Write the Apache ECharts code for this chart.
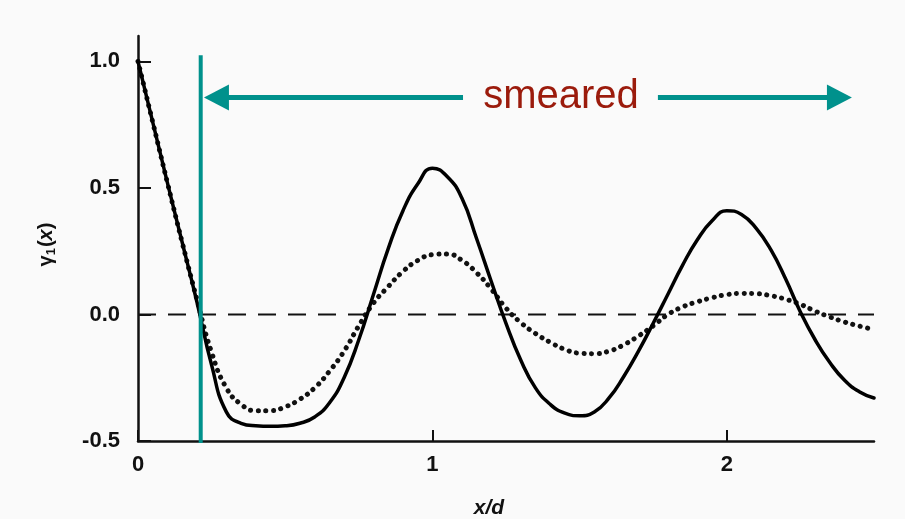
<!DOCTYPE html>
<html><head><meta charset="utf-8">
<script src="https://cdn.jsdelivr.net/npm/echarts@6/dist/echarts.min.js"></script>
<style>html,body{margin:0;padding:0;background:#fafafa}#c{width:905px;height:519px}</style>
</head><body><div id="c"></div><script>
// x/d sample positions
const xValues = [0.00,0.05,0.10,0.15,0.20,0.25,0.30,0.35,0.40,0.45,0.50,0.55,0.60,0.65,0.70,0.75,0.80,0.85,0.90,0.95,
  1.00,1.05,1.10,1.15,1.20,1.25,1.30,1.35,1.40,1.45,1.50,1.55,1.60,1.65,1.70,1.75,1.80,1.85,1.90,1.95,
  2.00,2.05,2.10,2.15,2.20,2.25,2.30,2.35,2.40,2.45,2.50];
// solid curve gamma_1(x)
const solidValues = [1.00,0.76,0.52,0.285,0.05,-0.20,-0.385,-0.43,-0.44,-0.442,-0.44,-0.43,-0.405,-0.35,-0.25,-0.10,0.08,0.26,0.41,0.515,
  0.578,0.545,0.46,0.30,0.13,-0.035,-0.18,-0.29,-0.355,-0.39,-0.40,-0.385,-0.33,-0.245,-0.145,-0.035,0.08,0.195,0.295,0.37,
  0.41,0.395,0.34,0.255,0.14,0.01,-0.10,-0.19,-0.26,-0.305,-0.33];
// dotted (smeared) curve
const dottedValues = [1.00,0.76,0.52,0.285,0.06,-0.15,-0.29,-0.355,-0.38,-0.38,-0.365,-0.335,-0.29,-0.225,-0.145,-0.045,0.045,0.11,0.17,0.213,
  0.236,0.239,0.214,0.165,0.10,0.025,-0.032,-0.075,-0.11,-0.138,-0.153,-0.155,-0.145,-0.12,-0.085,-0.045,0.00,0.03,0.05,0.066,
  0.078,0.083,0.082,0.074,0.06,0.04,0.013,-0.01,-0.03,-0.046,-0.06];
const xTicks = [0, 1, 2];
const yTicks = [-0.5, 0, 0.5, 1.0];
const xRange = [0, 2.5];
const yRange = [-0.5, 1.1];
const cutoffX = 0.213;
const cutoffSpan = [-0.508, 1.024];
const arrowY = 0.857;
const leftArrow = [0.2665, 1.104];
const rightArrow = [1.766, 2.3825];
const annotation = { text: 'smeared', x: 1.437, y: 0.858 };

const teal = '#00918c';
const pair = (xs, ys) => xs.map((x, i) => [x, ys[i]]);

const chart = echarts.init(document.getElementById('c'), null, { renderer: 'canvas' });
chart.setOption({
  backgroundColor: '#fafafa',
  animation: false,
  grid: { left: 138, right: 31, top: 36, bottom: 78, containLabel: false, outerBoundsMode: 'none' },
  xAxis: {
    type: 'value', min: xRange[0], max: xRange[1], interval: 1,
    name: 'x/d', nameLocation: 'middle', nameGap: 57,
    nameTextStyle: { fontFamily: 'Liberation Sans', fontSize: 21, fontWeight: 'bold', fontStyle: 'italic', color: '#111', padding: [0, 34, 0, 0] },
    axisLine: { onZero: false, lineStyle: { color: '#111', width: 2.5 } },
    axisTick: { inside: true, length: 11, customValues: xTicks, lineStyle: { color: '#111', width: 2 } },
    axisLabel: { customValues: xTicks, margin: 13, fontFamily: 'Liberation Sans', fontSize: 22, fontWeight: 'bold', color: '#111',
      formatter: v => String(Math.round(v)) },
    splitLine: { show: false }
  },
  yAxis: {
    type: 'value', min: yRange[0], max: yRange[1], interval: 0.5,
    name: '{g|γ}{s|1}{p|(}{i|x}{p|)}', nameLocation: 'middle', nameGap: 80,
    nameTextStyle: { color: '#111', fontFamily: 'Liberation Sans', padding: [0, 12, 0, 0],
      rich: {
        g: { fontSize: 20, fontWeight: 'bold', fontFamily: 'Liberation Sans', color: '#111' },
        s: { fontSize: 13, fontWeight: 'bold', fontFamily: 'Liberation Sans', color: '#111', padding: [10, 1, 0, 0] },
        p: { fontSize: 20, fontWeight: 'bold', fontFamily: 'Liberation Sans', color: '#111' },
        i: { fontSize: 20, fontWeight: 'bold', fontStyle: 'italic', fontFamily: 'Liberation Sans', color: '#111' }
      } },
    axisLine: { onZero: false, lineStyle: { color: '#111', width: 2.5 } },
    axisTick: { inside: true, length: 13, customValues: yTicks, lineStyle: { color: '#111', width: 2 } },
    axisLabel: { customValues: yTicks, margin: 18, fontFamily: 'Liberation Sans', fontSize: 22, fontWeight: 'bold', color: '#111',
      formatter: v => (Math.abs(v * 2 - Math.round(v * 2)) < 1e-6 ? v.toFixed(1) : '') },
    splitLine: { show: false }
  },
  series: [
    {
      name: 'zero', type: 'line', symbol: 'none', silent: true,
      data: [[xRange[0], 0], [xRange[1], 0]],
      lineStyle: { color: '#111', width: 2, type: [18, 12] }
    },
    {
      name: 'dotted', type: 'line', symbol: 'none', smooth: 0.5, silent: true,
      data: pair(xValues, dottedValues),
      lineStyle: { color: '#111', width: 5, type: [0.1, 7.5], cap: 'round' }
    },
    {
      name: 'solid', type: 'line', symbol: 'none', smooth: 0.5, silent: true,
      data: pair(xValues, solidValues),
      lineStyle: { color: '#000', width: 3.5, cap: 'round', join: 'round' }
    },
    {
      name: 'cutoff', type: 'line', symbol: 'none', clip: false, silent: true,
      data: [[cutoffX, cutoffSpan[0]], [cutoffX, cutoffSpan[1]]],
      lineStyle: { color: teal, width: 4 },
      markLine: {
        silent: true, animation: false,
        symbolSize: [26, 25],
        label: { show: false },
        lineStyle: { color: teal, width: 5, type: 'solid' },
        data: [
          [{ coord: [leftArrow[0], arrowY], symbol: 'triangle' }, { coord: [leftArrow[1], arrowY], symbol: 'none' }],
          [{ coord: [rightArrow[0], arrowY], symbol: 'none' }, { coord: [rightArrow[1], arrowY], symbol: 'triangle' }]
        ]
      },
      markPoint: {
        silent: true, animation: false,
        symbol: 'circle', symbolSize: 0,
        label: { show: true, position: 'inside', fontFamily: 'Liberation Sans', fontSize: 40, color: '#9b1b0c',
          formatter: () => annotation.text },
        data: [{ coord: [annotation.x, annotation.y] }]
      }
    }
  ]
});
</script></body></html>
